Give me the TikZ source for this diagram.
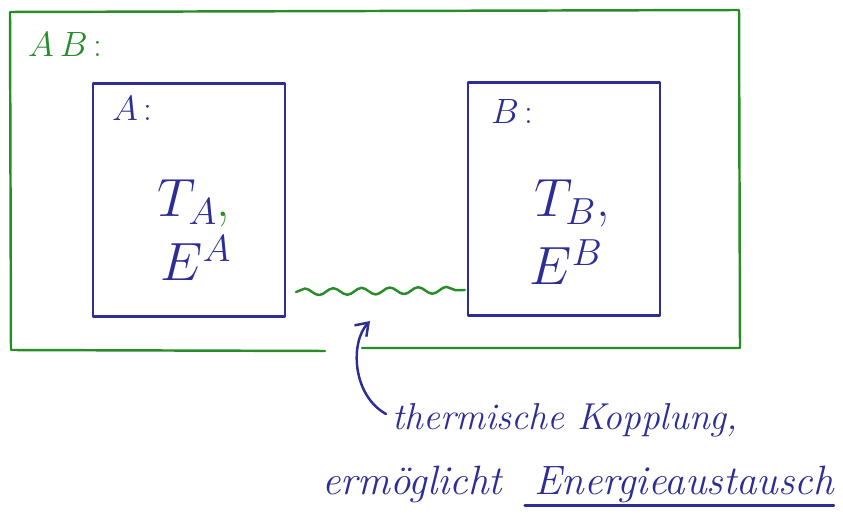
\RequirePackage{fix-cm}
\documentclass[tikz,border=0pt]{standalone}
\usepackage{amsmath}
\usepackage{tikz}
\usetikzlibrary{positioning,arrows.meta,calc,decorations.pathmorphing}

\definecolor{penGreen}{RGB}{40,140,40}
\definecolor{penBlue}{RGB}{45,45,150}

\tikzset{
  pen/.style={line width=2.1pt,line cap=round,line join=round},
  subsys/.style={pen,draw=penBlue,minimum width=5.76cm,minimum height=7.0cm,inner sep=0pt},
  tag/.style={font=\fontsize{30}{34}\selectfont,inner sep=0pt},
  quantity/.style={font=\fontsize{46}{52}\selectfont,text=penBlue,inner sep=0pt},
  note/.style={font=\itshape\fontsize{32}{38}\selectfont,text=penBlue,inner sep=0pt},
}

\begin{document}
\begin{tikzpicture}[>=Stealth,x=0.03cm,y=-0.03cm]
  \useasboundingbox (0,0) rectangle (843,517);
  % ---------------- whole system AB ----------------
  \draw[pen,penGreen] (362,348) -- (740,348) -- (739,10) -- (10,12) -- (11,350) -- (325,351);
  \node[tag,text=penGreen,anchor=west] (labAB) at (28,44) {$A\,B$\,:};
  % ---------------- subsystems A and B ----------------
  \node[subsys] (boxA) at (189,200) {};
  \node[subsys] (boxB) at (564,199) {};
  \node[tag,text=penBlue,anchor=north west] (labA) at ([shift={(20,14)}]boxA.north west) {$A$\,:};
  \node[tag,text=penBlue,anchor=north west] (labB) at ([shift={(24,18)}]boxB.north west) {$B$\,:};
  \node[quantity] (tA) at (194,203) {$T_A$\textcolor{penGreen}{,}};
  \node[quantity] (eA) at (196,258) {$E^A$};
  \node[quantity] (tB) at (572,203) {$T_B$,};
  \node[quantity] (eB) at (566,262) {$E^B$};
  % thermal contact between the boxes
  \coordinate (wl) at (296,292);
  \coordinate (wr) at (465,290);
  \draw[pen,penGreen,decorate,decoration={snake,segment length=0.85cm,amplitude=0.1cm}] (wl) -- (wr);
  % ---------------- annotation ----------------
  \node[note,anchor=base west] (kopp) at (392,430) {thermische Kopplung,};
  \node[note,font=\itshape\fontsize{35}{40}\selectfont,anchor=base west] (ermo) at (322,494) {ermöglicht};
  \node[note,font=\itshape\fontsize{35}{40}\selectfont,right=0.95cm of ermo.base east,anchor=base west] (energy) {Energieaustausch};
  \draw[pen,penBlue] ([shift={(-8pt,-10pt)}]energy.base west) -- ([yshift=-10pt]energy.base east);
  \coordinate (tip) at (370,321);
  \draw[pen,penBlue,-{Straight Barb[length=10pt,width=14pt]}] ([shift={(-6,-16)}]kopp.base west)
    .. controls (352,395) and (350,342) .. (tip);
\end{tikzpicture}
\end{document}
